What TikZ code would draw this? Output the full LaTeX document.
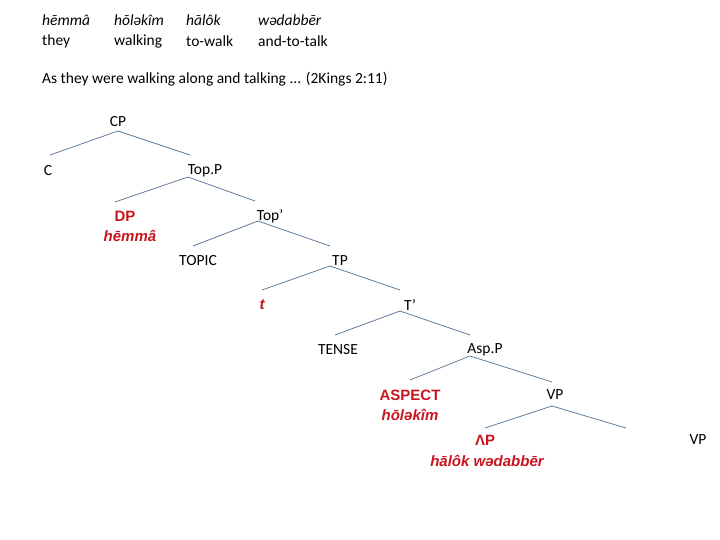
\documentclass[tikz,border=0pt]{standalone}
\usepackage{fontspec}
\setmainfont{Carlito}
\newfontfamily\redfont{Liberation Sans}
\definecolor{edgec}{RGB}{95,125,155}
\definecolor{redc}{RGB}{200,20,30}
\begin{document}
\begin{tikzpicture}[x=1pt,y=-1pt,
  lbl/.style={font=\fontsize{15.5}{17}\selectfont,inner sep=1pt,anchor=center},
  red/.style={font=\redfont\fontsize{15}{17}\selectfont\bfseries,text=redc,inner sep=1pt},
  edge/.style={draw=edgec,line width=0.8pt}]
\useasboundingbox (0,0) rectangle (720,540);
\node[lbl,anchor=west] (w1) at (41,20) {\itshape hēmmâ};
\node[lbl,anchor=west] (w2) at (113,20) {\itshape hōləkîm};
\node[lbl,anchor=west] (w3) at (185,20) {\itshape hālôk};
\node[lbl,anchor=west] (w4) at (257,20) {\itshape wədabbēr};
\node[lbl,anchor=west] (g1) at (41,41) {they};
\node[lbl,anchor=west] (g2) at (113,41) {walking};
\node[lbl,anchor=west] (g3) at (185,41) {to-walk};
\node[lbl,anchor=west] (g4) at (257,41) {and-to-talk};
\node[lbl,anchor=west] (s) at (41,79) {As they were walking along and talking ... (2Kings 2:11)};
\node[lbl] (cp) at (118,122) {CP};
\node[lbl] (c) at (48,171) {C};
\node[lbl] (topp) at (205,171) {Top.P};
\node[red] (dp) at (125,216) {DP};
\node[red] (dpw) at (130,236) {\itshape hēmmâ};
\node[lbl] (topb) at (270,216) {Top’};
\node[lbl] (topic) at (198,261) {TOPIC};
\node[lbl] (tp) at (340,261) {TP};
\node[red] (t) at (262,305) {\itshape t};
\node[lbl] (tb) at (410,305) {T’};
\node[lbl] (tense) at (338,350) {TENSE};
\node[lbl] (asp) at (485,350) {Asp.P};
\node[red] (aspect) at (410,395) {ASPECT};
\node[red] (aspw) at (410,415) {\itshape hōləkîm};
\node[lbl] (vp) at (555,395) {VP};
\node[red] (lp) at (485,440) {ΛP};
\node[red] (lpw) at (487,461) {\itshape hālôk wədabbēr};
\node[lbl] (vp2) at (698,440) {VP};
\draw[edge] (118,131) -- (50,155);
\draw[edge] (118,131) -- (190,155);
\draw[edge] (188,177) -- (115,202);
\draw[edge] (188,177) -- (255,201);
\draw[edge] (258,221) -- (193,246);
\draw[edge] (258,221) -- (330,246);
\draw[edge] (330,266) -- (262,290);
\draw[edge] (330,266) -- (400,290);
\draw[edge] (400,311) -- (335,335);
\draw[edge] (400,311) -- (470,335);
\draw[edge] (470,356) -- (410,380);
\draw[edge] (470,356) -- (552,382);
\draw[edge] (552,406) -- (485,428);
\draw[edge] (552,406) -- (626,428);
\end{tikzpicture}
\end{document}
